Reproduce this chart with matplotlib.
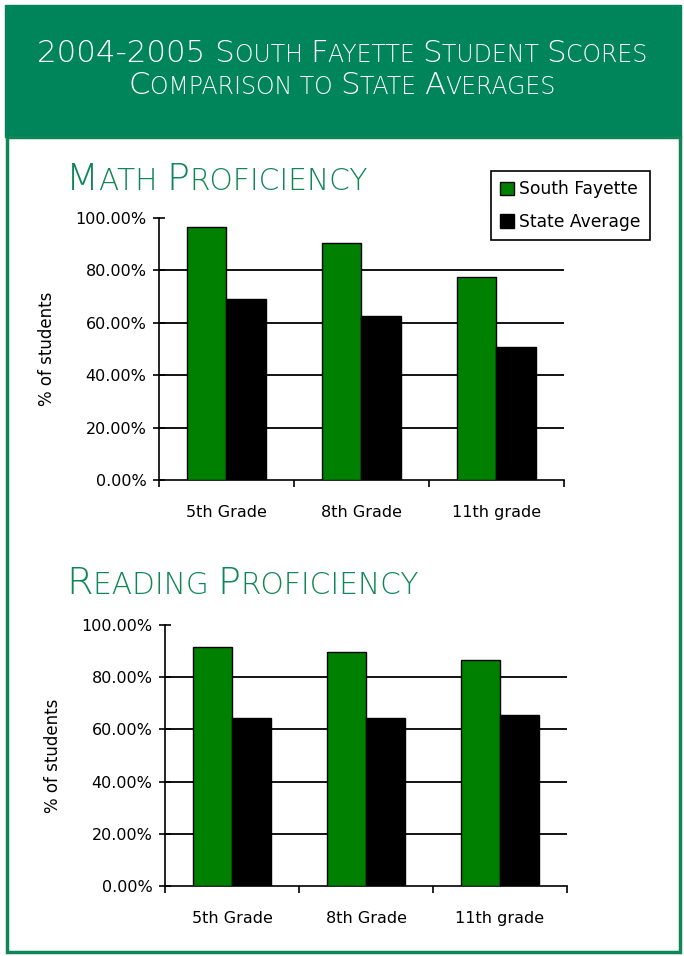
import matplotlib
matplotlib.use("Agg")
import matplotlib.pyplot as plt
import numpy as np
from matplotlib.patches import Rectangle
from matplotlib.offsetbox import TextArea, HPacker, AnnotationBbox

# data
grades = ["5th Grade", "8th Grade", "11th grade"]
math_south_fayette = [96.7, 90.3, 77.6]
math_state_average = [69.1, 62.7, 50.9]
reading_south_fayette = [91.4, 89.8, 86.6]
reading_state_average = [64.5, 64.5, 65.4]
series_names = ["South Fayette", "State Average"]
y_ticks = [0, 20, 40, 60, 80, 100]

W, H = 684, 956
HEADER_GREEN = "#00845a"
TITLE_GREEN = "#0f8658"
BAR_GREEN = "#008000"
AXIS_FONT = "DejaVu Sans"

fig = plt.figure(figsize=(W / 100, H / 100), dpi=100)


def fx(px):
    return px / W


def fy(py):
    return 1 - py / H


def small_caps(text, x, y, big, small, color, ha=0.5):
    # fake small caps: capitals/digits at big size, lower case upper-cased at small size
    runs = []
    for ch in text:
        is_big = not ch.islower()
        if ch == " " and runs:
            is_big = runs[-1][0]
        if runs and runs[-1][0] == is_big:
            runs[-1][1] += ch
        else:
            runs.append([is_big, ch])
    boxes = [
        TextArea(
            s.upper(),
            textprops=dict(fontsize=big if b else small, color=color,
                           family="DejaVu Sans", weight="light"),
        )
        for b, s in runs
    ]
    pack = HPacker(children=boxes, align="baseline", pad=0, sep=0)
    ab = AnnotationBbox(pack, (x, y), xycoords="figure fraction", frameon=False,
                        box_alignment=(ha, 0.5), pad=0)
    fig.add_artist(ab)


# header band and frame
fig.add_artist(Rectangle((fx(5), fy(137)), fx(676), 132 / H,
                         transform=fig.transFigure, color=HEADER_GREEN, zorder=0))
fig.add_artist(Rectangle((fx(7), fy(952)), fx(673), 815 / H,
                         transform=fig.transFigure, fill=False,
                         edgecolor=TITLE_GREEN, linewidth=2.5, zorder=0))

small_caps("2004-2005 South Fayette Student Scores", 0.5, fy(53), 22.2, 17, "white")
small_caps("Comparison to State Averages", 0.5, fy(85), 22.2, 17, "white")
small_caps("Math Proficiency", fx(66), fy(180), 27.5, 21.3, TITLE_GREEN, ha=0.0)
small_caps("Reading Proficiency", fx(66), fy(584), 27.5, 21.3, TITLE_GREEN, ha=0.0)


def bar_chart(rect, sf, st, legend=False):
    ax = fig.add_axes(rect)
    x = np.arange(len(grades))
    w = 0.29
    ax.bar(x - w / 2, sf, w, color=BAR_GREEN, edgecolor="black", linewidth=1,
           label=series_names[0], zorder=3)
    ax.bar(x + w / 2, st, w, color="black", edgecolor="black", linewidth=1,
           label=series_names[1], zorder=3)
    ax.set_xlim(-0.5, len(grades) - 0.5)
    ax.set_ylim(0, 100)
    for g in y_ticks[1:-1]:
        ax.axhline(g, color="black", linewidth=1.3, zorder=1)
    ax.set_yticks(y_ticks)
    ax.set_yticklabels([f"{v:.2f}%" for v in y_ticks], family=AXIS_FONT,
                       fontsize=11.5)
    ax.tick_params(axis="y", direction="inout", length=8, width=1.2, pad=5)
    ax.set_xticks(np.arange(len(grades) + 1) - 0.5)
    ax.set_xticklabels([])
    ax.set_xticks(x, minor=True)
    ax.set_xticklabels(grades, minor=True, family=AXIS_FONT, fontsize=11.5)
    ax.tick_params(axis="x", which="major", direction="out", length=5, width=1.2)
    ax.tick_params(axis="x", which="minor", length=0, pad=18)
    for s in ["top", "right"]:
        ax.spines[s].set_visible(False)
    for s in ["left", "bottom"]:
        ax.spines[s].set_linewidth(1.2)
    ax.set_ylabel("% of students", family=AXIS_FONT, fontsize=12, labelpad=14)
    if legend:
        leg = fig.legend(loc="upper left", bbox_to_anchor=(fx(491), fy(171)),
                         fancybox=False, edgecolor="black", framealpha=1,
                         prop=dict(family=AXIS_FONT, size=12.3),
                         handlelength=0.8, handleheight=0.8, handletextpad=0.3,
                         borderpad=0.55, labelspacing=0.85, borderaxespad=0)
        leg.get_frame().set_linewidth(1.2)
    return ax


bar_chart([fx(159), fy(480), fx(405), 262 / H], math_south_fayette,
          math_state_average, legend=True)
bar_chart([fx(165), fy(886), fx(402), 261 / H], reading_south_fayette,
          reading_state_average)

fig.savefig("out.png", dpi=100)
